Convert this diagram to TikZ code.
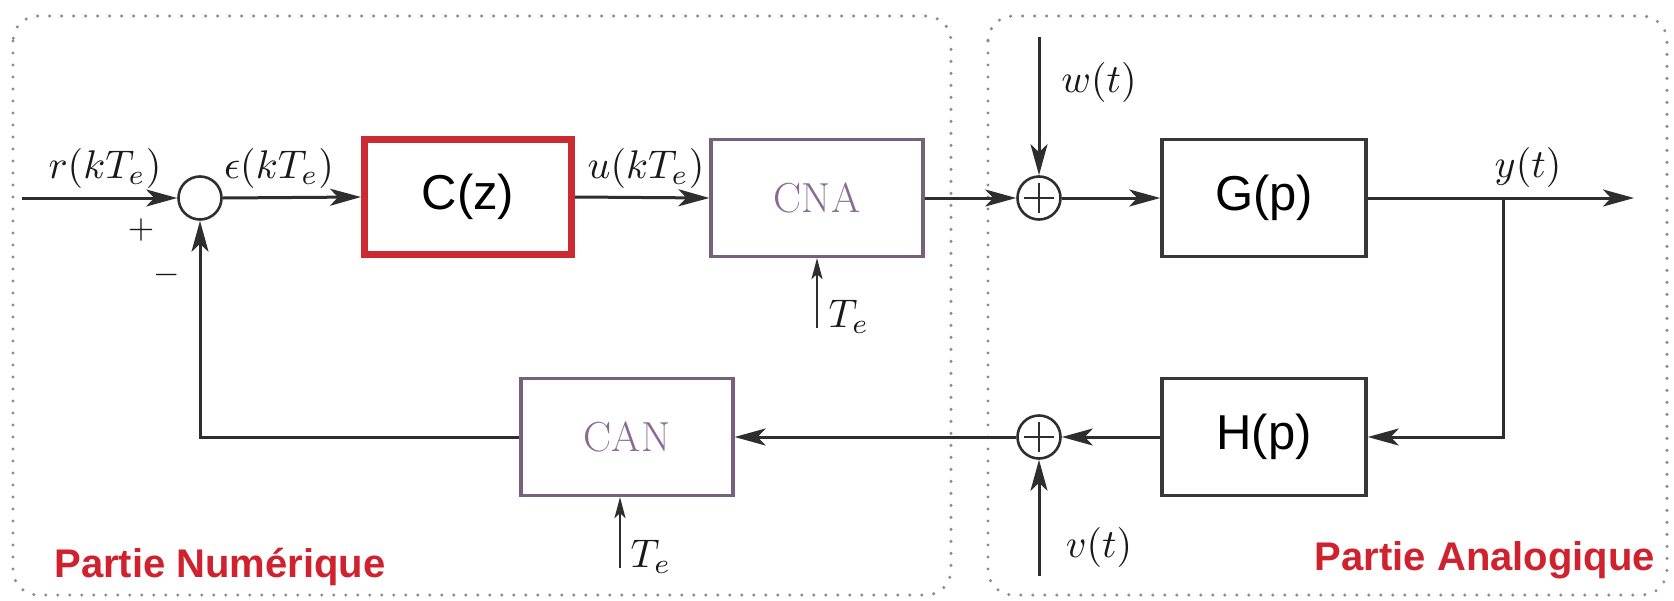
\documentclass[tikz,border=0pt]{standalone}
\usepackage{fontspec}
\newfontfamily\arialfont{Liberation Sans}
\usetikzlibrary{arrows.meta}
\definecolor{boxgray}{HTML}{383838}
\definecolor{linegray}{HTML}{2E2E2E}
\definecolor{mauve}{HTML}{76607E}
\definecolor{mauvetext}{HTML}{886A92}
\definecolor{redbox}{HTML}{CC2A33}
\definecolor{redtext}{HTML}{D0222E}
\definecolor{dotgray}{HTML}{8C8C8C}
\newcommand{\mlab}[1]{\scalebox{4}{$#1$}}
\newcommand{\slab}[1]{\scalebox{3.4}{$#1$}}
\begin{document}
\begin{tikzpicture}[x=1pt,y=-1pt,
  sansbox/.style={draw=boxgray, line width=3.5pt, minimum width=204pt, minimum height=117pt, inner sep=0pt, font=\arialfont\fontsize{49}{58}\selectfont},
  redblock/.style={draw=redbox, line width=7pt, minimum width=207pt, minimum height=115pt, inner sep=0pt, font=\arialfont\fontsize{49}{58}\selectfont},
  convbox/.style={draw=mauve, line width=3.2pt, minimum width=212pt, minimum height=117pt, inner sep=0pt, text=mauvetext, font=\rmfamily\fontsize{42}{48}\selectfont},
  sumnode/.style={draw=linegray, circle, line width=2.6pt, minimum size=43pt, inner sep=0pt},
  conn/.style={draw=linegray, line width=3pt, -{Stealth[length=31pt,width=17pt,inset=8pt]}},
  tconn/.style={draw=linegray, line width=2.4pt, -{Stealth[length=21pt,width=11pt,inset=5pt]}},
  lbl/.style={inner sep=0pt, text=black!90},
  part/.style={anchor=base, inner sep=0pt, text=redtext, font=\arialfont\bfseries\fontsize{40}{48}\selectfont},
  zone/.style={draw=dotgray, line width=3.4pt, line cap=round, dash pattern=on 0pt off 12pt, rounded corners=25pt},
  plusbar/.style={draw=linegray, line width=1.8pt}
]
\useasboundingbox (0,0) rectangle (1674,600);
\fill[white] (0,0) rectangle (1674,600);

% zones
\draw[zone] (13,16) rectangle (951,595);
\draw[zone] (988,16) rectangle (1667,595);

% blocks
\node[sumnode] (s1) at (200,198) {};
\node[redblock] (cz) at (468,197) {C(z)};
\node[convbox] (cna) at (817,198) {CNA};
\node[sumnode] (s2) at (1039,198) {};
\node[sansbox] (gp) at (1264,198) {G(p)};
\node[sansbox] (hp) at (1264,437) {H(p)};
\node[sumnode] (s3) at (1039,437) {};
\node[convbox] (can) at (627,437) {CAN};

% plus signs
\draw[plusbar] ([xshift=-15pt]s2.center) -- ([xshift=15pt]s2.center);
\draw[plusbar] ([yshift=-15pt]s2.center) -- ([yshift=15pt]s2.center);
\draw[plusbar] ([xshift=-15pt]s3.center) -- ([xshift=15pt]s3.center);
\draw[plusbar] ([yshift=-15pt]s3.center) -- ([yshift=15pt]s3.center);

% free ends
\coordinate (in) at (22,198);
\coordinate (w) at (1039,37);
\coordinate (out) at (1634,198);
\coordinate (br) at (1503,198);
\coordinate (v) at (1039,576);
\coordinate (te1) at (817,328);
\coordinate (te2) at (620,568);

% connectors
\draw[conn] (in) -- (s1.west);
\draw[conn] (s1.east) -- (cz.west);
\draw[conn] (cz.east) -- (cna.west);
\draw[conn] (cna.east) -- (s2.west);
\draw[conn] (w) -- (s2.north);
\draw[conn] (s2.east) -- (gp.west);
\draw[conn] (gp.east) -- (out);
\draw[conn] (br) |- (hp.east);
\draw[conn] (hp.west) -- (s3.east);
\draw[conn] (v) -- (s3.south);
\draw[conn] (s3.west) -- (can.east);
\draw[conn] (can.west) -| (s1.south);
\draw[tconn] (te1) -- (te1 |- cna.south);
\draw[tconn] (te2) -- (te2 |- can.south);

% labels
\node[lbl] (lr) at (105,168) {\mlab{r(kT_e)}};
\node[lbl] (le) at (279,168) {\mlab{\epsilon(kT_e)}};
\node[lbl] (lu) at (646,168) {\mlab{u(kT_e)}};
\node[lbl] (lw) at (1099,82) {\mlab{w(t)}};
\node[lbl] (ly) at (1528,167) {\mlab{y(t)}};
\node[lbl] (lv) at (1099,547) {\mlab{v(t)}};
\node[lbl] (lt1) at (849,317) {\mlab{T_e}};
\node[lbl] (lt2) at (651,557) {\mlab{T_e}};
\node[lbl] (lp) at (141,230) {\slab{+}};
\node[lbl] (lm) at (167,275) {\slab{-}};

\node[part] (pn) at (220,577) {Partie Numérique};
\node[part] (pa) at (1485,570) {Partie Analogique};
\end{tikzpicture}
\end{document}
